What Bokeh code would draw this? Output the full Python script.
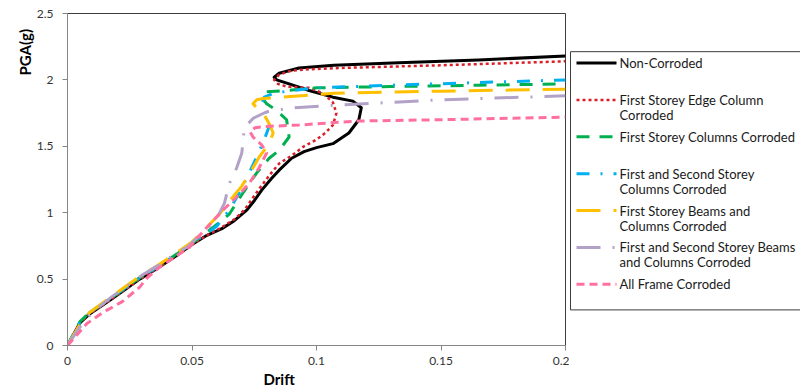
import math
from bokeh.plotting import figure
from bokeh.models import Range1d, Title, FixedTicker
from bokeh.layouts import row
from bokeh.core.properties import value
from bokeh.embed import file_html
from bokeh.resources import INLINE

# ---------------- data ----------------
x_ticks = [0, 0.05, 0.1, 0.15, 0.2]
x_tick_labels = ["0", "0.05", "0.1", "0.15", "0.2"]
y_ticks = [0, 0.5, 1, 1.5, 2, 2.5]
y_tick_labels = ["0", "0.5", "1", "1.5", "2", "2.5"]

non_corroded_drift = [0, 0.005, 0.009, 0.017, 0.023, 0.029, 0.036, 0.044, 0.050, 0.056,
                      0.062, 0.067, 0.072, 0.075, 0.078, 0.082, 0.085, 0.090, 0.095, 0.100,
                      0.1066, 0.113, 0.117, 0.118, 0.1146, 0.1066, 0.097, 0.089, 0.084, 0.083,
                      0.085, 0.093, 0.107, 0.133, 0.165, 0.2]
non_corroded_pga = [0, 0.17, 0.24, 0.34, 0.42, 0.50, 0.58, 0.68, 0.76, 0.83,
                    0.88, 0.94, 1.02, 1.09, 1.17, 1.26, 1.32, 1.41, 1.46, 1.49,
                    1.52, 1.60, 1.70, 1.79, 1.84, 1.87, 1.92, 1.97, 2.00, 2.02,
                    2.05, 2.09, 2.11, 2.13, 2.15, 2.18]

edge_col_drift = [0, 0.005, 0.009, 0.017, 0.023, 0.029, 0.036, 0.044, 0.050, 0.056,
                  0.062, 0.067, 0.071, 0.074, 0.077, 0.081, 0.085, 0.090, 0.095, 0.100,
                  0.1035, 0.1066, 0.108, 0.1066, 0.1025, 0.097, 0.088, 0.0845, 0.083, 0.085,
                  0.090, 0.097, 0.110, 0.150, 0.2]
edge_col_pga = [0, 0.17, 0.24, 0.34, 0.42, 0.50, 0.58, 0.68, 0.76, 0.83,
                0.89, 0.95, 1.02, 1.10, 1.18, 1.28, 1.37, 1.43, 1.50, 1.55,
                1.60, 1.66, 1.75, 1.83, 1.90, 1.94, 1.95, 1.97, 2.00, 2.04,
                2.07, 2.08, 2.09, 2.11, 2.14]

first_cols_drift = [0, 0.005, 0.009, 0.017, 0.023, 0.029, 0.036, 0.044, 0.050, 0.053,
                    0.0585, 0.065, 0.0705, 0.076, 0.081, 0.085, 0.089, 0.088, 0.084, 0.080,
                    0.078, 0.080, 0.088, 0.100, 0.130, 0.165, 0.2]
first_cols_pga = [0, 0.18, 0.25, 0.35, 0.43, 0.51, 0.59, 0.69, 0.77, 0.81,
                  0.89, 0.99, 1.15, 1.30, 1.41, 1.47, 1.57, 1.70, 1.77, 1.82,
                  1.87, 1.91, 1.92, 1.94, 1.95, 1.96, 1.97]

first_second_cols_drift = [0, 0.005, 0.009, 0.017, 0.023, 0.029, 0.036, 0.044, 0.050, 0.055,
                           0.060, 0.065, 0.069, 0.073, 0.076, 0.079, 0.081, 0.080, 0.078, 0.079,
                           0.083, 0.090, 0.100, 0.130, 0.165, 0.2]
first_second_cols_pga = [0, 0.17, 0.25, 0.35, 0.43, 0.51, 0.59, 0.69, 0.77, 0.83,
                         0.90, 1.02, 1.15, 1.30, 1.42, 1.55, 1.65, 1.74, 1.82, 1.87,
                         1.90, 1.92, 1.94, 1.96, 1.98, 2.00]

first_beams_cols_drift = [0, 0.005, 0.009, 0.017, 0.023, 0.029, 0.036, 0.044, 0.050, 0.056,
                          0.0615, 0.0665, 0.070, 0.073, 0.077, 0.081, 0.0826, 0.081, 0.0786, 0.076,
                          0.0745, 0.076, 0.0786, 0.0866, 0.107, 0.150, 0.2]
first_beams_cols_pga = [0, 0.16, 0.25, 0.36, 0.44, 0.52, 0.60, 0.70, 0.78, 0.89,
                        1.00, 1.12, 1.20, 1.29, 1.42, 1.52, 1.60, 1.67, 1.75, 1.79,
                        1.82, 1.85, 1.86, 1.87, 1.90, 1.915, 1.93]

first_second_beams_cols_drift = [0, 0.005, 0.010, 0.018, 0.024, 0.030, 0.037, 0.044, 0.048, 0.052,
                                 0.056, 0.060, 0.063, 0.065, 0.068, 0.070, 0.0705, 0.071, 0.0745, 0.080,
                                 0.0905, 0.109, 0.150, 0.2]
first_second_beams_cols_pga = [0, 0.14, 0.25, 0.37, 0.45, 0.53, 0.61, 0.70, 0.74, 0.81,
                               0.88, 0.96, 1.07, 1.22, 1.34, 1.45, 1.54, 1.64, 1.71, 1.76,
                               1.79, 1.81, 1.85, 1.88]

all_frame_drift = [0, 0.0078, 0.0143, 0.022, 0.029, 0.032, 0.037, 0.0426, 0.049, 0.055,
                   0.0625, 0.068, 0.073, 0.077, 0.080, 0.078, 0.0745, 0.0733, 0.0753, 0.080,
                   0.093, 0.116, 0.150, 0.2]
all_frame_pga = [0, 0.165, 0.25, 0.33, 0.44, 0.51, 0.59, 0.66, 0.74, 0.87,
                 1.02, 1.12, 1.22, 1.34, 1.45, 1.51, 1.57, 1.61, 1.64, 1.65,
                 1.66, 1.69, 1.70, 1.72]

series_names = [
    ["Non-Corroded"],
    ["First Storey Edge  Column", "Corroded"],
    ["First Storey Columns  Corroded"],
    ["First and Second Storey", "Columns Corroded"],
    ["First Storey Beams  and", "Columns Corroded"],
    ["First and Second Storey Beams", "and Columns  Corroded"],
    ["All Frame Corroded"],
]
series_x = [non_corroded_drift, edge_col_drift, first_cols_drift, first_second_cols_drift,
            first_beams_cols_drift, first_second_beams_cols_drift, all_frame_drift]
series_y = [non_corroded_pga, edge_col_pga, first_cols_pga, first_second_cols_pga,
            first_beams_cols_pga, first_second_beams_cols_pga, all_frame_pga]

# ---------------- styles ----------------
styles = [
    dict(color="#000000", width=3, dash="solid"),
    dict(color="#D9202A", width=2.5, dash="3 3"),
    dict(color="#00B050", width=3, dash="13 10"),
    dict(color="#00B0F0", width=3, dash="13 11 2 11"),
    dict(color="#FFC000", width=3, dash="24 13"),
    dict(color="#B3A2C7", width=3, dash="24 12 2 12"),
    dict(color="#FF6F9F", width=3, dash="8 5"),
]

FONT = "Lato"

# ---------------- main chart ----------------
p = figure(width=569, height=387, output_backend="svg", toolbar_location=None,
           x_range=Range1d(0, 0.2), y_range=Range1d(0, 2.5),
           min_border_left=67, min_border_right=4, min_border_top=13, min_border_bottom=42)
p.background_fill_color = "white"
p.border_fill_color = "white"
p.outline_line_color = "#3c3c3c"
p.outline_line_width = 1
p.grid.visible = False

for xs, ys, st in zip(series_x, series_y, styles):
    p.line(xs, ys, line_color=st["color"], line_width=st["width"], line_dash=st["dash"],
           line_join="round")

for ax in (p.xaxis[0], p.yaxis[0]):
    ax.axis_line_color = "#868686"
    ax.major_tick_line_color = "#868686"
    ax.major_tick_out = 5
    ax.major_tick_in = 0
    ax.minor_tick_line_color = None
    ax.major_label_text_font = FONT
    ax.major_label_text_font_size = "12px"
    ax.major_label_text_color = "#333333"

p.xaxis[0].ticker = FixedTicker(ticks=x_ticks)
p.xaxis[0].major_label_overrides = {t: l for t, l in zip(x_ticks, x_tick_labels)}
p.xaxis[0].major_label_standoff = 6
p.yaxis[0].ticker = FixedTicker(ticks=y_ticks)
p.yaxis[0].major_label_overrides = {t: l for t, l in zip(y_ticks, y_tick_labels)}
p.yaxis[0].major_label_standoff = 9

p.add_layout(Title(text="Drift", align="left", offset=196, standoff=0,
                   text_font=FONT, text_font_size="15px", text_font_style="bold",
                   text_color="#000000"), "below")
p.add_layout(Title(text="PGA(g)", align="left", offset=270, standoff=0,
                   text_font=FONT, text_font_size="15px", text_font_style="bold",
                   text_color="#000000"), "left")

# ---------------- legend panel ----------------
leg = figure(width=231, height=387, output_backend="svg", toolbar_location=None,
             x_range=Range1d(569, 800), y_range=Range1d(387, 0),
             min_border=0, x_axis_location=None, y_axis_location=None)
leg.outline_line_color = None
leg.grid.visible = False
leg.background_fill_color = "white"
leg.border_fill_color = "white"
leg.quad(left=[570], right=[810], top=[44.5], bottom=[345.5], fill_color=None,
         line_color="#3c3c3c", line_width=1)

item_top = 57.7
item_step = 43
line_step = 17.5
for i, (names, st) in enumerate(zip(series_names, styles)):
    yy = item_top + i * item_step
    leg.line([576, 616], [yy, yy], line_color=st["color"], line_width=st["width"],
             line_dash=st["dash"])
    for j, t in enumerate(names):
        leg.text(x=[619], y=[yy + j * line_step], text=[t], text_font=value(FONT),
                 text_font_size="13px", text_baseline="middle", text_align="left",
                 text_color="#1a1a1a")

layout = row(p, leg)
open("out.html", "w").write(file_html(layout, INLINE))
